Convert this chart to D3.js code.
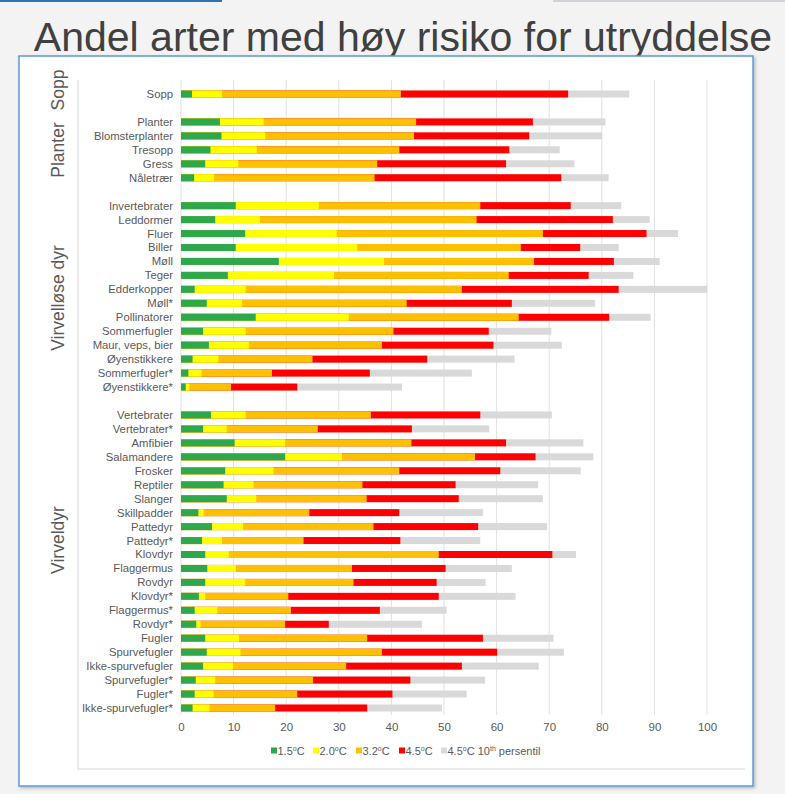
<!DOCTYPE html>
<html>
<head>
<meta charset="utf-8">
<script src="https://cdn.jsdelivr.net/npm/d3@7"></script>
<style>
  html, body { margin: 0; padding: 0; background: #f3f3f3; }
  svg { display: block; font-family: "Liberation Sans", Arial, sans-serif; }
</style>
</head>
<body>
<svg id="chart" width="785" height="794"></svg>
<script>
// ---- Data ----
const title = "Andel arter med høy risiko for utryddelse";

const groupNames = ["Sopp", "Planter", "Virvelløse dyr", "Virveldyr"];
const groupSizes = [1, 5, 14, 22];

const categories = [
  "Sopp",
  "Planter", "Blomsterplanter", "Tresopp", "Gress", "Nåletrær",
  "Invertebrater", "Leddormer", "Fluer", "Biller", "Møll", "Teger", "Edderkopper", "Møll*",
  "Pollinatorer", "Sommerfugler", "Maur, veps, bier", "Øyenstikkere", "Sommerfugler*", "Øyenstikkere*",
  "Vertebrater", "Vertebrater*", "Amfibier", "Salamandere", "Frosker", "Reptiler", "Slanger",
  "Skillpadder", "Pattedyr", "Pattedyr*", "Klovdyr", "Flaggermus", "Rovdyr", "Klovdyr*",
  "Flaggermus*", "Rovdyr*", "Fugler", "Spurvefugler", "Ikke-spurvefugler", "Spurvefugler*",
  "Fugler*", "Ikke-spurvefugler*"
];

const v15 = [
  2.1,
  7.4, 7.7, 5.6, 4.6, 2.5,
  10.4, 6.5, 12.2, 10.4, 18.6, 8.9, 2.6, 4.9, 14.2, 4.2, 5.3, 2.2, 1.4, 0.9,
  5.7, 4.2, 10.2, 19.8, 8.4, 8.1, 8.7, 3.3, 5.9, 4.0, 4.6, 5.0, 4.6, 3.4, 2.6, 2.9, 4.6, 4.9, 4.2, 2.8, 2.6, 2.2
];
const v20 = [
  7.8,
  15.7, 16.0, 14.4, 10.9, 6.3,
  26.2, 15.0, 29.6, 33.5, 38.6, 29.1, 12.3, 11.6, 31.9, 12.3, 12.9, 7.1, 3.9, 1.6,
  12.3, 8.7, 19.8, 30.6, 17.6, 13.8, 14.3, 4.3, 11.8, 7.8, 9.1, 10.4, 12.2, 4.6, 6.9, 3.7, 11.0, 11.3, 9.9, 6.5, 6.2, 5.4
];
const v32 = [
  41.8,
  44.7, 44.3, 41.5, 37.3, 36.8,
  56.9, 56.2, 68.8, 64.6, 67.1, 62.3, 53.4, 42.9, 64.2, 40.4, 38.2, 25.0, 17.3, 9.5,
  36.1, 26.0, 43.8, 55.9, 41.5, 34.5, 35.3, 24.4, 36.6, 23.3, 49.0, 32.5, 32.8, 20.4, 20.9, 19.8, 35.4, 38.2, 31.4, 25.1, 22.1, 17.9
];
const v45 = [
  73.6,
  66.9, 66.2, 62.4, 61.8, 72.3,
  74.1, 82.1, 88.5, 75.9, 82.3, 77.5, 83.2, 62.9, 81.4, 58.5, 59.4, 46.8, 35.9, 22.1,
  56.9, 43.9, 61.8, 67.4, 60.7, 52.2, 52.8, 41.5, 56.5, 41.7, 70.6, 50.3, 48.6, 49.0, 37.8, 28.1, 57.4, 60.1, 53.4, 43.6, 40.2, 35.4
];
const v45p10 = [
  85.2,
  80.7, 80.1, 72.0, 74.8, 81.3,
  83.7, 89.1, 94.5, 83.2, 91.0, 86.0, 100, 78.7, 89.3, 70.4, 72.4, 63.4, 55.3, 42.0,
  70.5, 58.6, 76.5, 78.4, 76.0, 67.9, 68.8, 57.4, 69.6, 56.9, 75.1, 62.9, 57.9, 63.6, 50.5, 45.8, 70.8, 72.8, 68.0, 57.8, 54.3, 49.6
];

const xTicks = [0, 10, 20, 30, 40, 50, 60, 70, 80, 90, 100];

const seriesNames = ["1.5", "2.0", "3.2", "4.5", "4.5"];
const seriesSuffix = ["", "", "", "", " 10|th| persentil"];
const seriesColors = ["#2ea84a", "#ffff00", "#ffc000", "#ff0000", "#d9d9d9"];
const seriesValues = [v15, v20, v32, v45, v45p10];

// ---- Build rows with spacer rows between groups ----
const rows = [];
let ci = 0;
groupSizes.forEach((n, g) => {
  if (g > 0) rows.push({ key: "gap" + g, label: null, idx: -1 });
  for (let k = 0; k < n; k++) {
    rows.push({ key: "r" + ci, label: categories[ci], idx: ci, group: g });
    ci++;
  }
});

const svg = d3.select("#chart");
const W = 785, H = 794;

const defs = svg.append("defs");
const f = defs.append("filter").attr("id", "shadow").attr("x", "-5%").attr("y", "-5%").attr("width", "110%").attr("height", "110%");
f.append("feDropShadow").attr("dx", 1.5).attr("dy", 1.5).attr("stdDeviation", 1.5).attr("flood-color", "#000").attr("flood-opacity", 0.25);

// Background
svg.append("rect").attr("width", W).attr("height", H).attr("fill", "#f3f3f3");
svg.append("rect").attr("x", 0).attr("y", 0).attr("width", 222).attr("height", 2).attr("fill", "#2e75b6");
svg.append("rect").attr("x", 553).attr("y", 0).attr("width", 232).attr("height", 2).attr("fill", "#cfd3d8");

// Title
svg.append("text")
  .attr("x", 403).attr("y", 51)
  .attr("text-anchor", "middle")
  .attr("font-size", 41)
  .attr("fill", "#404040")
  .text(title);

// Chart box
svg.append("rect")
  .attr("x", 19).attr("y", 56).attr("width", 734).attr("height", 730)
  .attr("fill", "#ffffff").attr("stroke", "#5b9bd5").attr("stroke-width", 1.5)
  .attr("filter", "url(#shadow)");

// Inner frame (L shape)
svg.append("path")
  .attr("d", "M78,80 V769 H745")
  .attr("fill", "none").attr("stroke", "#d9d9d9").attr("stroke-width", 1.2);

// Scales
const x = d3.scaleLinear().domain([0, 100]).range([181, 707]);
const step = (708 - 94) / (rows.length - 1);
const y = d3.scaleBand()
  .domain(rows.map(r => r.key))
  .range([94 - step / 2, 708 + step / 2])
  .paddingInner(0).paddingOuter(0);
const barH = 7;

// Gridlines
svg.append("g").selectAll("line").data(xTicks).join("line")
  .attr("x1", d => x(d)).attr("x2", d => x(d))
  .attr("y1", 80).attr("y2", 715)
  .attr("stroke", "#e0e0e0").attr("stroke-width", 1);

// Bars: overlapping, largest drawn first
const dataRows = rows.filter(r => r.idx >= 0);
for (let s = seriesValues.length - 1; s >= 0; s--) {
  svg.append("g").selectAll("rect").data(dataRows).join("rect")
    .attr("x", x(0))
    .attr("y", d => y(d.key) + y.bandwidth() / 2 - barH / 2)
    .attr("width", d => x(seriesValues[s][d.idx]) - x(0))
    .attr("height", barH)
    .attr("fill", seriesColors[s]);
}

// Category labels
svg.append("g").selectAll("text").data(dataRows).join("text")
  .attr("x", 173)
  .attr("y", d => y(d.key) + y.bandwidth() / 2)
  .attr("dy", "0.35em")
  .attr("text-anchor", "end")
  .attr("font-size", 11.3)
  .attr("fill", "#595959")
  .text(d => d.label);

// X axis (labels only)
const xAxis = d3.axisBottom(x).tickValues(xTicks).tickSize(0).tickPadding(0);
const gx = svg.append("g").attr("transform", "translate(0,723)").call(xAxis);
gx.select(".domain").remove();
gx.selectAll("text")
  .attr("font-size", 11.5)
  .attr("fill", "#595959")
  .attr("font-family", "Liberation Sans, Arial, sans-serif");

// Group labels (rotated), placed as in the original slide
const groupLabelY = [90, 150, 298, 540];
groupNames.forEach((name, g) => {
  svg.append("text")
    .attr("transform", `translate(64,${groupLabelY[g]}) rotate(-90)`)
    .attr("text-anchor", "middle")
    .attr("font-size", 17.5)
    .attr("fill", "#595959")
    .text(name);
});

// Legend
const legendX = [271, 313, 356, 399, 441];
const legY = 751;
seriesNames.forEach((nm, i) => {
  const g = svg.append("g");
  g.append("rect").attr("x", legendX[i]).attr("y", legY - 3.5).attr("width", 6).attr("height", 6)
    .attr("fill", seriesColors[i]);
  const t = g.append("text").attr("x", legendX[i] + 6.5).attr("y", legY).attr("dy", "0.35em")
    .attr("font-size", 11).attr("fill", "#595959");
  t.append("tspan").text(nm);
  t.append("tspan").attr("font-size", 7).attr("dy", -4).text("o");
  t.append("tspan").attr("dy", 4).text("C");
  if (seriesSuffix[i]) {
    const parts = seriesSuffix[i].split("|");
    t.append("tspan").text(parts[0]);
    t.append("tspan").attr("font-size", 7).attr("dy", -4).text(parts[1]);
    t.append("tspan").attr("dy", 4).text(parts[2]);
  }
});
</script>
</body>
</html>
